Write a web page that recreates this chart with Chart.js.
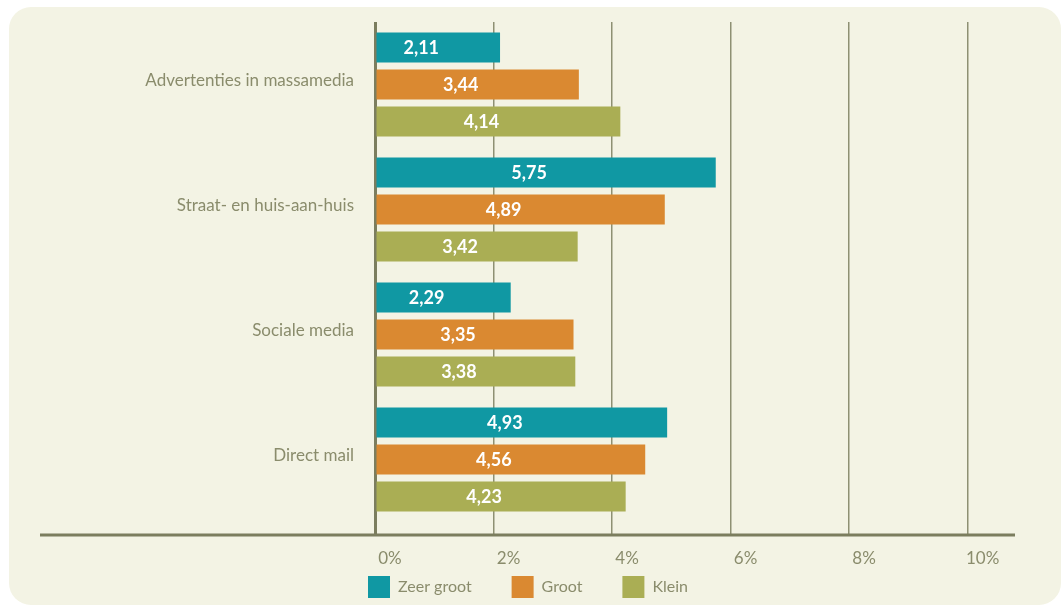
<!DOCTYPE html>
<html>
<head>
<meta charset="utf-8">
<script src="https://cdn.jsdelivr.net/npm/chart.js@4"></script>
<style>
    body { margin: 0; background: #ffffff; }
    #card {
        position: absolute;
        left: 9px;
        top: 7px;
        width: 1052px;
        height: 598px;
        border-radius: 22px;
        background: #f3f3e4;
    }
</style>
</head>
<body>
<div id="card"><canvas id="mediachart" width="1052" height="598"></canvas></div>
<script>
const categories = ['Advertenties in massamedia', 'Straat- en huis-aan-huis', 'Sociale media', 'Direct mail'];
const zeer_groot = [2.11, 5.75, 2.29, 4.93];
const groot = [3.44, 4.89, 3.35, 4.56];
const klein = [4.14, 3.42, 3.38, 4.23];
const tick_values = [0, 2, 4, 6, 8, 10];

const textcolor = '#8a8c6c';
const linecolor = '#7b7d5e';

// white value inside each bar, a bit left of its middle
const barlabels = {
    id: 'barlabels',
    afterDatasetsDraw(chart) {
        const ctx = chart.ctx;
        ctx.save();
        ctx.font = 'bold 18px Lato';
        ctx.fillStyle = '#ffffff';
        ctx.textAlign = 'center';
        ctx.textBaseline = 'middle';
        chart.data.datasets.forEach((ds, i) => {
            chart.getDatasetMeta(i).data.forEach((bar, j) => {
                const txt = ds.data[j].toFixed(2).replace('.', ',');
                ctx.fillText(txt, (bar.x + bar.base) / 2 - 17, bar.y + 1);
            });
        });
        ctx.restore();
    }
};

// long baseline under the bars, running out under the category names
const baseline = {
    id: 'baseline',
    afterDraw(chart) {
        const ctx = chart.ctx;
        const y = chart.chartArea.bottom + 13;
        ctx.save();
        ctx.strokeStyle = linecolor;
        ctx.lineWidth = 3;
        ctx.beginPath();
        ctx.moveTo(31, y);
        ctx.lineTo(chart.chartArea.right, y);
        ctx.stroke();
        ctx.restore();
    }
};

// pull the legend up so it sits right under the % labels
const legendup = {
    id: 'legendup',
    afterLayout(chart) {
        chart.legend.top -= 36;
        chart.legend.bottom -= 36;
    }
};

const data = {
    labels: categories,
    datasets: [
        { label: 'Zeer groot', data: zeer_groot, backgroundColor: '#1098a3' },
        { label: 'Groot', data: groot, backgroundColor: '#da8931' },
        { label: 'Klein', data: klein, backgroundColor: '#aaae54' }
    ]
};

const barconfig = {
    type: 'bar',
    data: data,
    options: {
        indexAxis: 'y',
        responsive: false,
        animation: false,
        categoryPercentage: 0.89,
        barPercentage: 0.81,
        layout: {
            padding: { top: 15, right: 46, bottom: -39, left: 32 }
        },
        scales: {
            x: {
                min: 0,
                max: 10.8,
                afterBuildTicks: (scale) => {
                    scale.ticks = tick_values.map(v => ({ value: v }));
                },
                afterFit: (scale) => {
                    scale.height = 50;
                    scale.paddingLeft = 0;
                    scale.paddingRight = 0;
                },
                border: { display: false },
                grid: {
                    color: (c) => c.index === 0 ? linecolor : '#8e9073',
                    lineWidth: (c) => c.index === 0 ? 3 : 1.5,
                    drawTicks: true,
                    tickLength: 13,
                    tickColor: (c) => c.index === 0 ? linecolor : '#8e9073'
                },
                ticks: {
                    color: textcolor,
                    font: { family: 'Lato', size: 17 },
                    labelOffset: 15,
                    padding: 13,
                    callback: (v) => v + '%'
                }
            },
            y: {
                afterFit: (scale) => {
                    scale.width = 334;
                    scale.paddingTop = 0;
                    scale.paddingBottom = 0;
                },
                border: { display: false },
                grid: { display: false },
                ticks: {
                    color: textcolor,
                    font: { family: 'Lato', size: 17 },
                    padding: 13,
                    labelOffset: -4
                }
            }
        },
        plugins: {
            legend: {
                position: 'bottom',
                labels: {
                    color: textcolor,
                    font: { family: 'Lato', size: 16 },
                    boxWidth: 22,
                    boxHeight: 22,
                    padding: 40
                }
            },
            tooltip: { enabled: false }
        }
    },
    plugins: [barlabels, baseline, legendup]
};

new Chart(document.getElementById('mediachart'), barconfig);
</script>
</body>
</html>
